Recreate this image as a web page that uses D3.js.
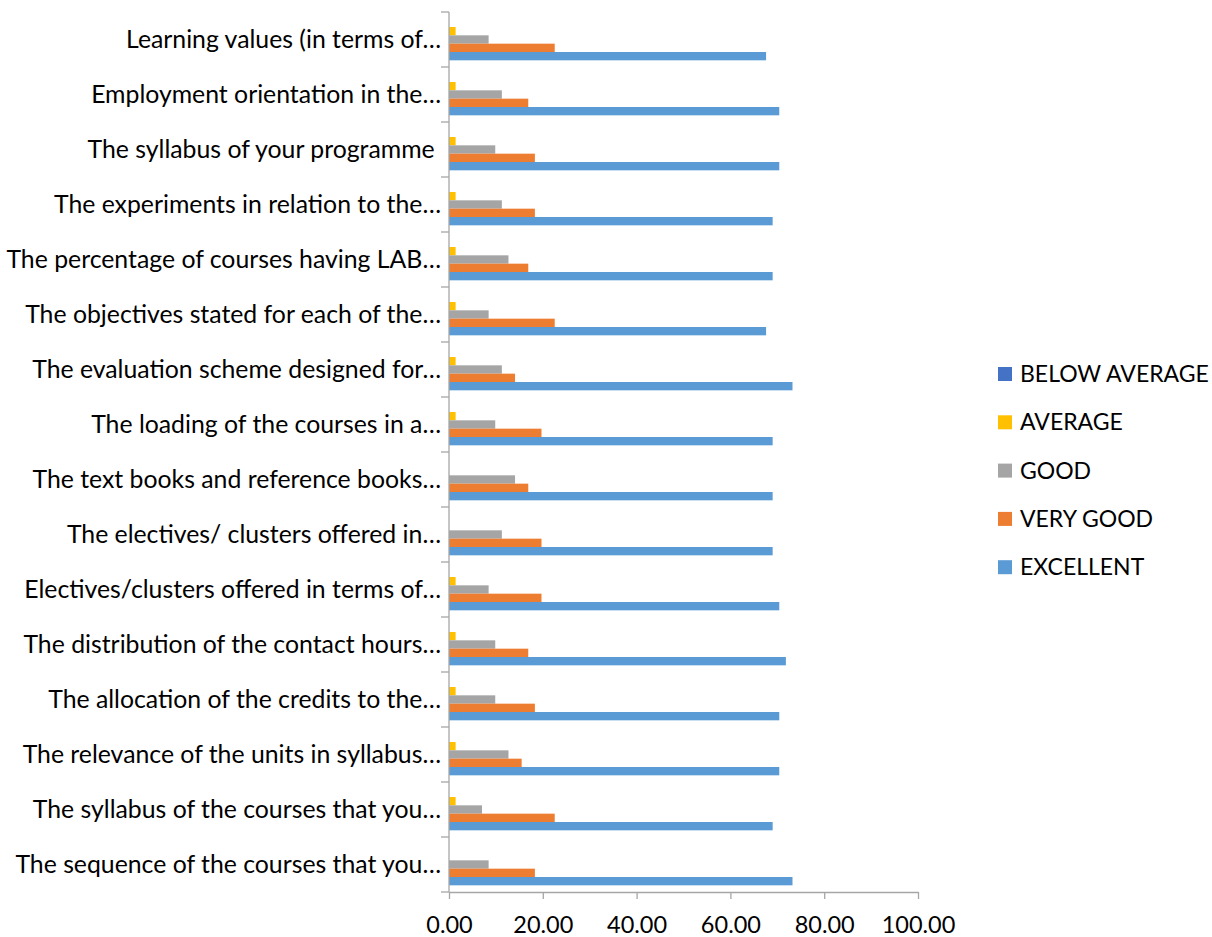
<!DOCTYPE html>
<html>
<head>
<meta charset="utf-8">
<script src="https://cdn.jsdelivr.net/npm/d3@7"></script>
<style>
  html, body { margin: 0; padding: 0; background: #fff; }
  svg text { font-family: Lato, "Open Sans", sans-serif; fill: #000; }
</style>
</head>
<body>
<svg id="chart" width="1212" height="937"></svg>
<script>
// categories, top to bottom as drawn
var categories = [
    'Learning values (in terms of\u2026',
    'Employment orientation in the\u2026',
    'The syllabus of your programme\u00a0',
    'The experiments in relation to the\u2026',
    'The percentage of courses having LAB\u2026',
    'The objectives stated for each of the\u2026',
    'The evaluation scheme designed for\u2026',
    'The loading of the courses in a\u2026',
    'The text books and reference books\u2026',
    'The electives/ clusters offered in\u2026',
    'Electives/clusters offered in terms of\u2026',
    'The distribution of the contact hours\u2026',
    'The allocation of the credits to the\u2026',
    'The relevance of the units in syllabus\u2026',
    'The syllabus of the courses that you\u2026',
    'The sequence of the courses that you\u2026'
];

var seriesNames = ['BELOW AVERAGE', 'AVERAGE', 'GOOD', 'VERY GOOD', 'EXCELLENT'];
var seriesColors = ['#4472C4', '#FFC000', '#A5A5A5', '#ED7D31', '#5B9BD5'];

var belowAverage = [0, 0, 0, 0, 0, 0, 0, 0, 0, 0, 0, 0, 0, 0, 0, 0];
var average      = [1.41, 1.41, 1.41, 1.41, 1.41, 1.41, 1.41, 1.41, 0, 0, 1.41, 1.41, 1.41, 1.41, 1.41, 0];
var good         = [8.45, 11.27, 9.86, 11.27, 12.68, 8.45, 11.27, 9.86, 14.08, 11.27, 8.45, 9.86, 9.86, 12.68, 7.04, 8.45];
var veryGood     = [22.54, 16.90, 18.31, 18.31, 16.90, 22.54, 14.08, 19.72, 16.90, 19.72, 19.72, 16.90, 18.31, 15.49, 22.54, 18.31];
var excellent    = [67.61, 70.42, 70.42, 69.01, 69.01, 67.61, 73.24, 69.01, 69.01, 69.01, 70.42, 71.83, 70.42, 70.42, 69.01, 73.24];

var xTicks = [0, 20, 40, 60, 80, 100];

var seriesValues = [belowAverage, average, good, veryGood, excellent];

var plot = { left: 449, right: 918, top: 12, bottom: 892 };
var labelSize = 24.8;
var tickSize = 23.5;
var legendSize = 23;

var svg = d3.select('#chart');

var x = d3.scaleLinear()
    .domain([0, 100])
    .range([plot.left, plot.right]);

var y = d3.scaleBand()
    .domain(categories)
    .range([plot.top, plot.bottom])
    .padding(0);

var ySeries = d3.scaleBand()
    .domain(seriesNames)
    .range([0, y.bandwidth()])
    .paddingInner(0)
    .paddingOuter(0.8);

// bars
var groups = svg.append('g')
    .selectAll('g')
    .data(seriesNames)
    .enter().append('g')
    .attr('fill', function(d, i) { return seriesColors[i]; });

groups.selectAll('rect')
    .data(function(d, i) {
        return categories.map(function(c, j) { return { cat: c, series: d, value: seriesValues[i][j] }; });
    })
    .enter().append('rect')
    .filter(function(d) { return d.value > 0; })
    .attr('x', x(0))
    .attr('y', function(d) { return y(d.cat) + ySeries(d.series); })
    .attr('width', function(d) { return x(d.value) - x(0); })
    .attr('height', ySeries.bandwidth());

// x axis
var xAxis = svg.append('g')
    .attr('transform', 'translate(0,' + plot.bottom + ')')
    .call(d3.axisBottom(x).tickValues(xTicks).tickFormat(d3.format('.2f')).tickSize(7).tickSizeOuter(0));

xAxis.select('.domain').attr('stroke', '#a6a6a6').attr('stroke-width', 1.3);
xAxis.selectAll('.tick line').attr('stroke', '#a6a6a6').attr('stroke-width', 1.3);
xAxis.selectAll('.tick text')
    .attr('y', 0)
    .attr('dy', 41)
    .style('font-size', tickSize + 'px');

// y axis: ticks sit on category boundaries
var yAxisG = svg.append('g')
    .attr('class', 'yAxis');

yAxisG.append('line')
    .attr('x1', x(0)).attr('x2', x(0))
    .attr('y1', plot.top).attr('y2', plot.bottom)
    .attr('stroke', '#a6a6a6').attr('stroke-width', 1.3);

var boundaries = categories.map(function(c) { return y(c); }).concat([plot.bottom]);

yAxisG.selectAll('.ytick')
    .data(boundaries)
    .enter().append('line')
    .attr('class', 'ytick')
    .attr('x1', x(0) - 8).attr('x2', x(0))
    .attr('y1', function(d) { return d; })
    .attr('y2', function(d) { return d; })
    .attr('stroke', '#a6a6a6').attr('stroke-width', 1.3);

yAxisG.selectAll('.ylabel')
    .data(categories)
    .enter().append('text')
    .attr('class', 'ylabel')
    .attr('x', x(0) - 8)
    .attr('y', function(d) { return y(d) + y.bandwidth() / 2; })
    .attr('dy', '0.34em')
    .attr('text-anchor', 'end')
    .style('font-size', labelSize + 'px')
    .style('white-space', 'pre')
    .text(function(d) { return d; });

// legend
var legend = svg.append('g')
    .attr('transform', 'translate(998,374)');

var legendItems = legend.selectAll('g')
    .data(seriesNames)
    .enter().append('g')
    .attr('transform', function(d, i) { return 'translate(0,' + (i * 48.3) + ')'; });

legendItems.append('rect')
    .attr('x', 0)
    .attr('y', -7)
    .attr('width', 14)
    .attr('height', 14)
    .attr('fill', function(d, i) { return seriesColors[i]; });

legendItems.append('text')
    .attr('x', 22)
    .attr('y', 0)
    .attr('dy', '0.35em')
    .style('font-size', legendSize + 'px')
    .text(function(d) { return d; });
</script>
</body>
</html>
